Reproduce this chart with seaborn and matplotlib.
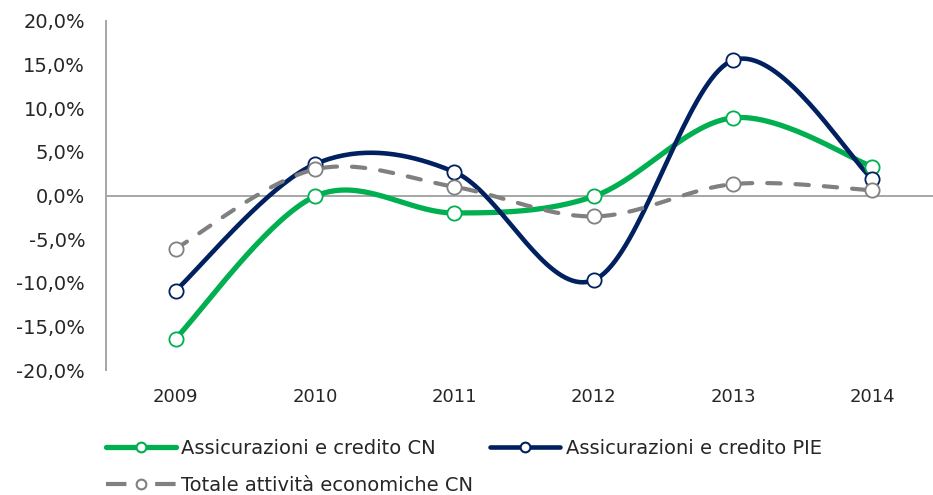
import numpy as np
import pandas as pd
import seaborn as sns
import matplotlib.pyplot as plt
from matplotlib.lines import Line2D

# --- data ---
years = ["2009", "2010", "2011", "2012", "2013", "2014"]
assic_cn = [-16.4, -0.1, -2.0, -0.1, 8.9, 3.3]    # Assicurazioni e credito CN
assic_pie = [-10.9, 3.6, 2.7, -9.7, 15.5, 1.9]    # Assicurazioni e credito PIE
totale_cn = [-6.1, 3.0, 1.0, -2.4, 1.3, 0.6]      # Totale attività economiche CN

labels = ["Assicurazioni e credito CN", "Assicurazioni e credito PIE",
          "Totale attività economiche CN"]
colors = ["#00B050", "#002060", "#808080"]


def smooth(y, n=40):
    # Excel style smoothed line: catmull-rom through the points, as bezier segments
    x = np.arange(len(y), dtype=float)
    p = np.column_stack([x, np.asarray(y, dtype=float)])
    p = np.vstack([p[0], p, p[-1]])
    out = []
    t = np.linspace(0, 1, n)[:, None]
    for i in range(1, len(p) - 2):
        p0, p1, p2, p3 = p[i - 1], p[i], p[i + 1], p[i + 2]
        c1 = p1 + (p2 - p0) / 6
        c2 = p2 - (p3 - p1) / 6
        seg = ((1 - t) ** 3) * p1 + 3 * ((1 - t) ** 2) * t * c1 + 3 * (1 - t) * t ** 2 * c2 + t ** 3 * p2
        out.append(seg if i == 1 else seg[1:])
    return np.vstack(out)


sns.set_style("white")
plt.rcParams["font.family"] = ["DejaVu Sans"]

fig = plt.figure(figsize=(9.33, 4.95), dpi=100)
ax = fig.add_axes([106 / 933, 125 / 495, 836 / 933, 349 / 495])

series = [assic_cn, assic_pie, totale_cn]
styles = ["-", "-", (0, (3.2, 3.6))]
widths = [3.8, 3.3, 3.0]

for vals, col, ls, lw in zip(series, colors, styles, widths):
    curve = smooth(vals)
    df = pd.DataFrame({"x": curve[:, 0], "y": curve[:, 1]})
    sns.lineplot(data=df, x="x", y="y", ax=ax, color=col, linewidth=lw,
                 linestyle=ls, sort=False, estimator=None, zorder=3,
                 dash_capstyle="round")
    pts = pd.DataFrame({"x": np.arange(len(years)), "y": vals})
    sns.scatterplot(data=pts, x="x", y="y", ax=ax, s=105, color="white",
                    edgecolor=col, linewidth=1.3, zorder=4)

ax.set_xlim(-0.5, 5.5)
ax.set_ylim(-20, 20)
ax.set_yticks(np.arange(-20, 21, 5))
ax.set_yticklabels([f"{v:.1f}%".replace(".", ",") for v in np.arange(-20, 21, 5)])
ax.set_xticks(range(len(years)))
ax.set_xticklabels(years)
ax.tick_params(axis="y", length=0, pad=15, labelsize=14, colors="#262626")
ax.tick_params(axis="x", length=0, pad=13, labelsize=13, colors="#262626")
ax.set_xlabel("")
ax.set_ylabel("")

for s in ["top", "right", "bottom"]:
    ax.spines[s].set_visible(False)
ax.spines["left"].set_color("#A6A6A6")
ax.spines["left"].set_linewidth(1.4)
ax.axhline(0, color="#A6A6A6", linewidth=1.4, zorder=1)

handles = [
    Line2D([], [], color=c, linewidth=w, linestyle=ls, marker="o", markersize=7,
           markerfacecolor="white", markeredgecolor=c, markeredgewidth=1.5)
    for c, ls, w in zip(colors, ["-", "-", (0, (4.9, 6.9))], widths)
]
# column-major fill: green, gray in column 1, navy in column 2
order = [0, 2, 1]
fig.legend([handles[i] for i in order], [labels[i] for i in order],
           loc="upper left", bbox_to_anchor=(88 / 933, 1 - 421 / 495),
           ncol=2, frameon=False, handlelength=3.6, handletextpad=0.3,
           columnspacing=0.85, labelspacing=0.95,
           prop={"family": "DejaVu Sans", "size": 14})

fig.savefig("out.png", dpi=100)
